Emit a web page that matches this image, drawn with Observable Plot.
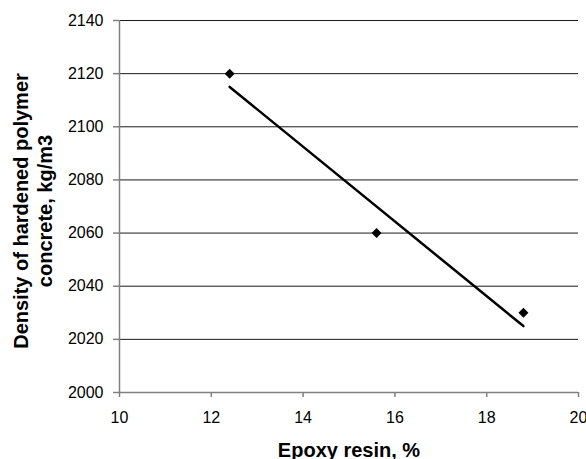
<!DOCTYPE html>
<html>
<head>
<meta charset="utf-8">
<script src="https://cdn.jsdelivr.net/npm/d3@7"></script>
<script src="https://cdn.jsdelivr.net/npm/@observablehq/plot@0.6"></script>
<style>
  html, body { margin: 0; padding: 0; background: white; }
</style>
</head>
<body>
<div id="chart"></div>
<script>
const epoxy = [12.4, 15.6, 18.8];
const density = [2120, 2060, 2030];
const xTicks = [10, 12, 14, 16, 18, 20];
const yTicks = [2000, 2020, 2040, 2060, 2080, 2100, 2120, 2140];
const xTitle = "Epoxy resin, %";
const yTitle = "Density of hardened polymer\nconcrete, kg/m3";

const data = epoxy.map((x, i) => ({x, y: density[i]}));

const chart = Plot.plot({
  width: 586,
  height: 459,
  marginLeft: 119,
  marginTop: 20,
  marginRight: 8,
  marginBottom: 67,
  style: {fontFamily: "'Liberation Sans', Arial, sans-serif", fontSize: "16px", background: "white", color: "black"},
  x: {domain: [10, 20], ticks: xTicks},
  y: {domain: [2000, 2140], ticks: yTicks},
  marks: [
    Plot.gridY(yTicks.slice(1), {stroke: "#000", strokeOpacity: 0.9, strokeWidth: 1}),
    Plot.ruleY([2000], {stroke: "#808080", strokeWidth: 1.5}),
    Plot.ruleX([10], {stroke: "#808080", strokeWidth: 1.5}),
    Plot.axisX({ticks: xTicks, tickFormat: d3.format("d"), tickSize: 5, tickPadding: 14, label: null, stroke: "#808080", fill: "black", strokeWidth: 1.5, fontSize: 16}),
    Plot.axisY({ticks: yTicks, tickFormat: d3.format("d"), tickSize: 6, tickPadding: 10, label: null, stroke: "#808080", fill: "black", strokeWidth: 1.5, fontSize: 16}),
    Plot.linearRegressionY(data, {x: "x", y: "y", ci: 0, stroke: "black", strokeWidth: 2.5}),
    Plot.dot(data, {x: "x", y: "y", symbol: "diamond2", r: 4.5, fill: "black", stroke: null}),
    Plot.text([xTitle], {frameAnchor: "bottom", lineAnchor: "bottom", dy: 64, fontWeight: "bold", fontSize: 20, fill: "black"}),
    Plot.text([yTitle], {frameAnchor: "left", rotate: -90, dx: -87.5, dy: 4.5, textAnchor: "middle", lineAnchor: "middle", lineHeight: 1.2, fontWeight: "bold", fontSize: 20, fill: "black"})
  ]
});
document.getElementById("chart").appendChild(chart);
</script>
</body>
</html>
